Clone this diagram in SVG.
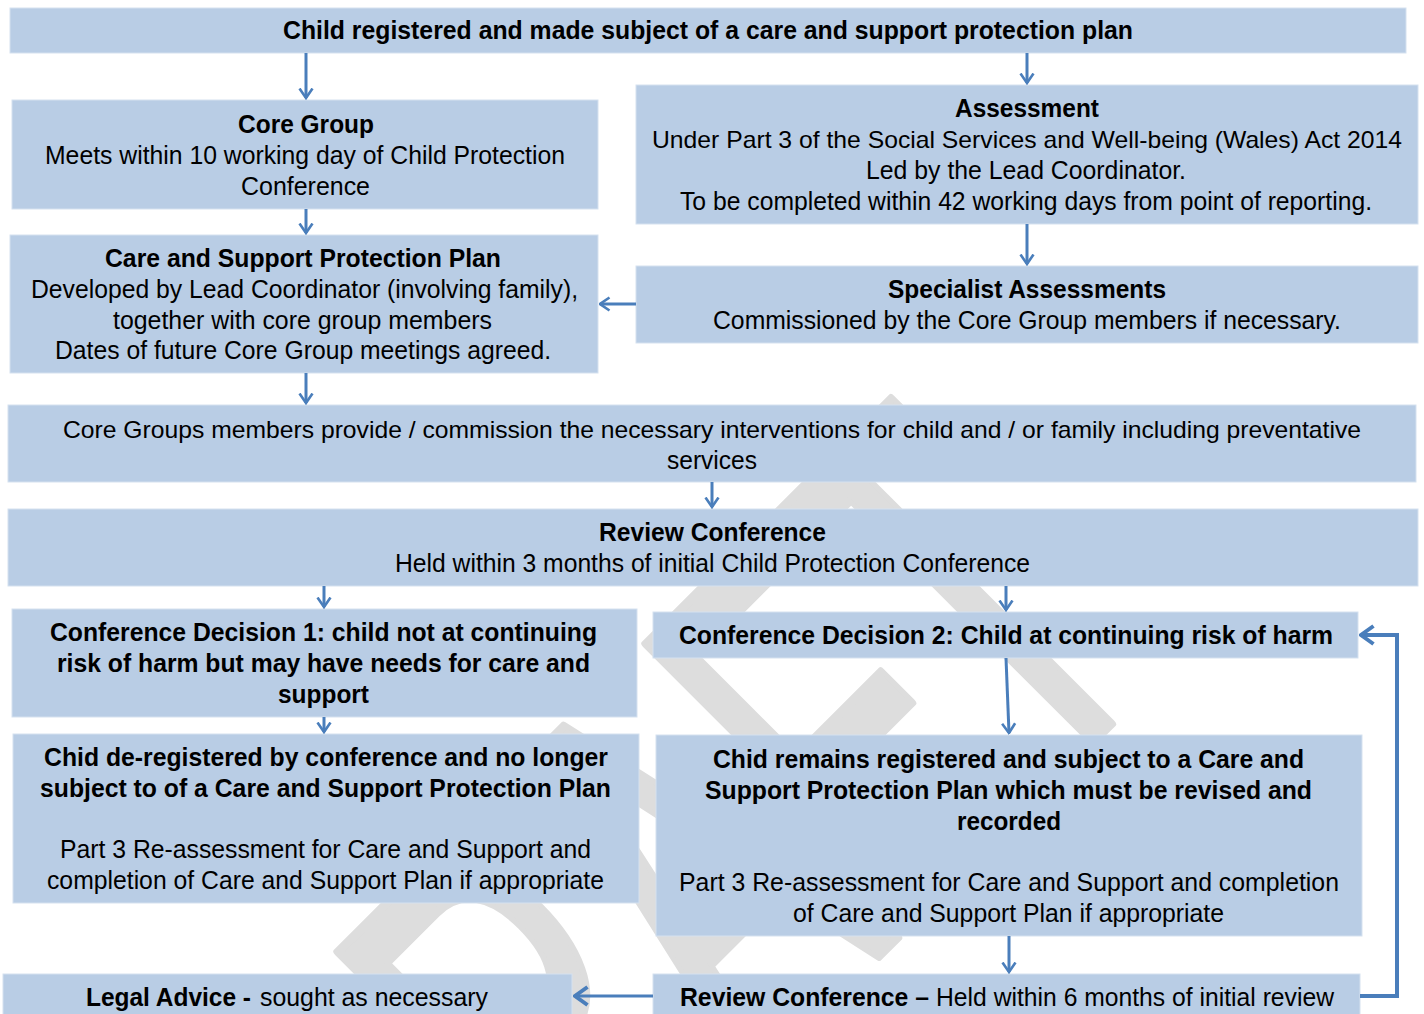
<svg xmlns="http://www.w3.org/2000/svg" width="1424" height="1014" viewBox="0 0 1424 1014">
<defs>
<style>
.box{fill:#b9cde5;stroke:#d5e1ef;stroke-width:1}
.t{font-family:"Liberation Sans",Arial,sans-serif;font-size:26px;fill:#000;text-anchor:start}
.s{font-size:24px}
.b{font-weight:bold}
.c{stroke:#4a7ebb;stroke-width:3;fill:none}
.wm{font-family:"Liberation Sans",Arial,sans-serif;font-size:560px;fill:#dddddd;stroke:#dddddd;stroke-width:9;stroke-linejoin:round}
</style>
<marker id="ah" viewBox="0 0 12 16" refX="10.5" refY="8" markerWidth="12" markerHeight="16" markerUnits="userSpaceOnUse" orient="auto">
<path d="M1,1.5 L10.5,8 L1,14.5" fill="none" stroke="#4a7ebb" stroke-width="2.6"/>
</marker>
<marker id="ah2" viewBox="0 0 16 22" refX="14" refY="11" markerWidth="16" markerHeight="22" markerUnits="userSpaceOnUse" orient="auto">
<path d="M1.5,2 L14,11 L1.5,20" fill="none" stroke="#4a7ebb" stroke-width="4"/>
</marker>
</defs>
<rect width="1424" height="1014" fill="#ffffff"/>
<g id="watermark">
<text class="wm" x="-1045" y="0" textLength="1045" lengthAdjust="spacingAndGlyphs" transform="translate(1170,665) rotate(-45)">DRAFT</text>
</g>
<g id="n-top"><rect class="box" x="10" y="8" width="1396" height="45"/>
<text class="t b" x="283" y="39" textLength="850" lengthAdjust="spacingAndGlyphs">Child registered and made subject of a care and support protection plan</text></g>
<g id="n-core"><rect class="box" x="12" y="100" width="586" height="109"/>
<text class="t b" x="238" y="133" textLength="136" lengthAdjust="spacingAndGlyphs">Core Group</text>
<text class="t" x="45" y="164" textLength="520" lengthAdjust="spacingAndGlyphs">Meets within 10 working day of Child Protection</text>
<text class="t" x="241" y="195" textLength="129" lengthAdjust="spacingAndGlyphs">Conference</text></g>
<g id="n-assess"><rect class="box" x="636" y="85" width="782" height="139"/>
<text class="t b" x="955" y="117" textLength="144" lengthAdjust="spacingAndGlyphs">Assessment</text>
<text class="t s" x="652" y="148" textLength="750" lengthAdjust="spacingAndGlyphs">Under Part 3 of the Social Services and Well-being (Wales) Act 2014</text>
<text class="t" x="866" y="179" textLength="320" lengthAdjust="spacingAndGlyphs">Led by the Lead Coordinator.</text>
<text class="t" x="680" y="210" textLength="692" lengthAdjust="spacingAndGlyphs">To be completed within 42 working days from point of reporting.</text></g>
<g id="n-plan"><rect class="box" x="10" y="235" width="588" height="138"/>
<text class="t b" x="105" y="267" textLength="396" lengthAdjust="spacingAndGlyphs">Care and Support Protection Plan</text>
<text class="t" x="31" y="298" textLength="547" lengthAdjust="spacingAndGlyphs">Developed by Lead Coordinator (involving family),</text>
<text class="t" x="113" y="329" textLength="379" lengthAdjust="spacingAndGlyphs">together with core group members</text>
<text class="t" x="55" y="359" textLength="496" lengthAdjust="spacingAndGlyphs">Dates of future Core Group meetings agreed.</text></g>
<g id="n-spec"><rect class="box" x="636" y="266" width="782" height="77"/>
<text class="t b" x="888" y="298" textLength="278" lengthAdjust="spacingAndGlyphs">Specialist Assessments</text>
<text class="t" x="713" y="329" textLength="628" lengthAdjust="spacingAndGlyphs">Commissioned by the Core Group members if necessary.</text></g>
<g id="n-interv"><rect class="box" x="8" y="405" width="1408" height="77"/>
<text class="t s" x="63" y="438" textLength="1298" lengthAdjust="spacingAndGlyphs">Core Groups members provide / commission the necessary interventions for child and / or family including preventative</text>
<text class="t" x="667" y="469" textLength="90" lengthAdjust="spacingAndGlyphs">services</text></g>
<g id="n-review1"><rect class="box" x="8" y="509" width="1410" height="77"/>
<text class="t b" x="599" y="541" textLength="227" lengthAdjust="spacingAndGlyphs">Review Conference</text>
<text class="t" x="395" y="572" textLength="635" lengthAdjust="spacingAndGlyphs">Held within 3 months of initial Child Protection Conference</text></g>
<g id="n-dec1"><rect class="box" x="12" y="609" width="625" height="108"/>
<text class="t b" x="50" y="641" textLength="547" lengthAdjust="spacingAndGlyphs">Conference Decision 1: child not at continuing</text>
<text class="t b" x="57" y="672" textLength="533" lengthAdjust="spacingAndGlyphs">risk of harm but may have needs for care and</text>
<text class="t b" x="278" y="703" textLength="91" lengthAdjust="spacingAndGlyphs">support</text></g>
<g id="n-dec2"><rect class="box" x="653" y="612" width="705" height="46"/>
<text class="t b" x="679" y="644" textLength="654" lengthAdjust="spacingAndGlyphs">Conference Decision 2: Child at continuing risk of harm</text></g>
<g id="n-dereg"><rect class="box" x="13" y="734" width="626" height="169"/>
<text class="t b" x="44" y="766" textLength="564" lengthAdjust="spacingAndGlyphs">Chid de-registered by conference and no longer</text>
<text class="t b" x="40" y="797" textLength="571" lengthAdjust="spacingAndGlyphs">subject to of a Care and Support Protection Plan</text>
<text class="t" x="60" y="858" textLength="531" lengthAdjust="spacingAndGlyphs">Part 3 Re-assessment for Care and Support and</text>
<text class="t" x="47" y="889" textLength="557" lengthAdjust="spacingAndGlyphs">completion of Care and Support Plan if appropriate</text></g>
<g id="n-remain"><rect class="box" x="656" y="735" width="706" height="201"/>
<text class="t b" x="713" y="768" textLength="591" lengthAdjust="spacingAndGlyphs">Chid remains registered and subject to a Care and</text>
<text class="t b" x="705" y="799" textLength="607" lengthAdjust="spacingAndGlyphs">Support Protection Plan which must be revised and</text>
<text class="t b" x="957" y="830" textLength="104" lengthAdjust="spacingAndGlyphs">recorded</text>
<text class="t" x="679" y="891" textLength="660" lengthAdjust="spacingAndGlyphs">Part 3 Re-assessment for Care and Support and completion</text>
<text class="t" x="793" y="922" textLength="431" lengthAdjust="spacingAndGlyphs">of Care and Support Plan if appropriate</text></g>
<g id="n-legal"><rect class="box" x="3" y="974" width="569" height="45"/>
<text class="t b" x="86" y="1006" textLength="165" lengthAdjust="spacingAndGlyphs">Legal Advice -</text>
<text class="t" x="260" y="1006" textLength="228" lengthAdjust="spacingAndGlyphs">sought as necessary</text></g>
<g id="n-review2"><rect class="box" x="653" y="974" width="707" height="45"/>
<text class="t b" x="680" y="1006" textLength="249" lengthAdjust="spacingAndGlyphs">Review Conference –</text>
<text class="t" x="936" y="1006" textLength="398" lengthAdjust="spacingAndGlyphs">Held within 6 months of initial review</text></g>
<g id="connectors">
<line class="c" x1="306" y1="53" x2="306" y2="98" marker-end="url(#ah)"/>
<line class="c" x1="1027" y1="53" x2="1027" y2="83" marker-end="url(#ah)"/>
<line class="c" x1="306" y1="209" x2="306" y2="233" marker-end="url(#ah)"/>
<line class="c" x1="1027" y1="224" x2="1027" y2="264" marker-end="url(#ah)"/>
<line class="c" x1="636" y1="304" x2="600" y2="304" marker-end="url(#ah)"/>
<line class="c" x1="306" y1="373" x2="306" y2="403" marker-end="url(#ah)"/>
<line class="c" x1="712" y1="482" x2="712" y2="507" marker-end="url(#ah)"/>
<line class="c" x1="324" y1="586" x2="324" y2="607" marker-end="url(#ah)"/>
<line class="c" x1="1006" y1="586" x2="1006" y2="610" marker-end="url(#ah)"/>
<line class="c" x1="1006" y1="658" x2="1009" y2="733" marker-end="url(#ah)"/>
<line class="c" x1="324" y1="717" x2="324" y2="732" marker-end="url(#ah)"/>
<line class="c" x1="1009" y1="936" x2="1009" y2="972" marker-end="url(#ah)"/>
<line class="c" x1="653" y1="996" x2="575" y2="996" marker-end="url(#ah2)"/>
<path class="c" style="stroke-width:4" d="M1360,996 L1397,996 L1397,635 L1361,635" marker-end="url(#ah2)"/>
</g>
</svg>
